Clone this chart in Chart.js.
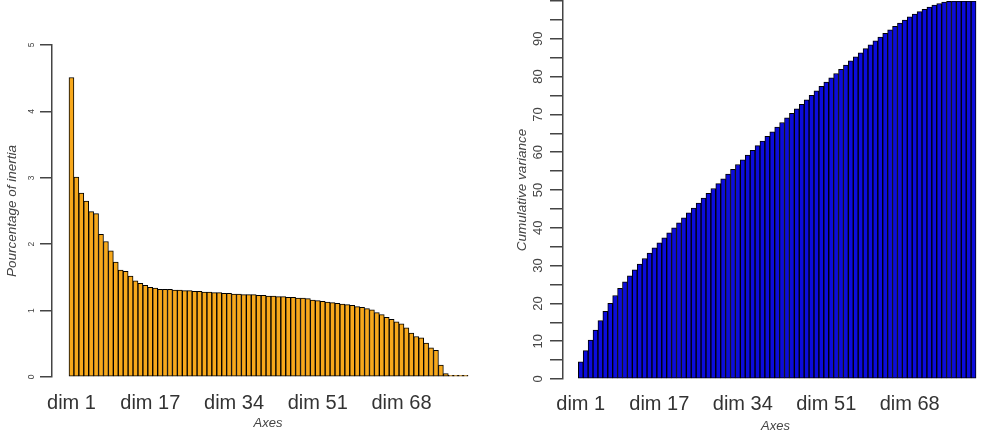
<!DOCTYPE html>
<html>
<head>
<meta charset="utf-8">
<script src="https://cdn.jsdelivr.net/npm/chart.js@4.4.1/dist/chart.umd.min.js"></script>
<style>
  html, body { margin: 0; padding: 0; background: #fff; overflow: hidden; }
  #wrap { position: relative; width: 988px; height: 430px; }
  canvas { position: absolute; top: 0; }
  #inertiaChart { left: 0; }
  #cumulChart { left: 494px; }
</style>
</head>
<body>
<div id="wrap">
  <canvas id="inertiaChart" width="494" height="430"></canvas>
  <canvas id="cumulChart" width="494" height="430"></canvas>
</div>
<script>
  // dimensions 1..81 (one bar each)
  var dims = [];
  for (var i = 1; i <= 81; i++) {
    dims.push(i);
  }

  // which dims get a label under the bars
  var labelDims = [1, 17, 34, 51, 68];

  // percentage of inertia per dim
  var inertia = [4.51, 3.01, 2.77, 2.65, 2.49, 2.46, 2.15, 2.04, 1.90, 1.73,
    1.61, 1.59, 1.52, 1.45, 1.41, 1.38, 1.35, 1.34, 1.32, 1.32,
    1.32, 1.31, 1.31, 1.30, 1.30, 1.29, 1.29, 1.28, 1.28, 1.27,
    1.27, 1.26, 1.26, 1.25, 1.25, 1.24, 1.24, 1.24, 1.23, 1.23,
    1.22, 1.22, 1.21, 1.21, 1.20, 1.20, 1.19, 1.19, 1.18, 1.16,
    1.15, 1.14, 1.13, 1.12, 1.11, 1.10, 1.09, 1.08, 1.06, 1.05,
    1.03, 1.01, 0.97, 0.94, 0.90, 0.87, 0.83, 0.80, 0.74, 0.66,
    0.61, 0.59, 0.51, 0.44, 0.40, 0.18, 0.05, 0.02, 0.01, 0.01, 0.00];

  // cumulative variance per dim (right plot)
  var cumVariance = [4.51, 7.52, 10.29, 12.94, 15.43, 17.89, 20.04, 22.08, 23.98, 25.71,
    27.32, 28.91, 30.43, 31.88, 33.29, 34.67, 36.02, 37.36, 38.68, 40.00,
    41.32, 42.63, 43.94, 45.24, 46.54, 47.83, 49.12, 50.40, 51.68, 52.95,
    54.22, 55.48, 56.74, 57.99, 59.24, 60.48, 61.72, 62.96, 64.19, 65.42,
    66.64, 67.86, 69.07, 70.28, 71.48, 72.68, 73.87, 75.06, 76.24, 77.40,
    78.55, 79.69, 80.82, 81.94, 83.05, 84.15, 85.24, 86.32, 87.38, 88.43,
    89.46, 90.47, 91.44, 92.38, 93.28, 94.15, 94.98, 95.78, 96.52, 97.18,
    97.79, 98.38, 98.89, 99.33, 99.73, 99.91, 99.96, 99.98, 99.99, 100.00, 100.00];

  Chart.defaults.font.family = "'Liberation Sans', Arial, Helvetica, sans-serif";

  // one R-style barplot per canvas
  function barChart(canvasId, values, fill, setup) {
    return new Chart(document.getElementById(canvasId), {
      type: 'bar',
      data: {
        labels: dims,
        datasets: [{
          data: values,
          backgroundColor: fill,
          borderColor: '#000',
          borderWidth: 1,
          borderSkipped: false,
          minBarLength: 1.6,
          barPercentage: 1,
          categoryPercentage: 1
        }]
      },
      options: {
        responsive: false,
        animation: false,
        layout: { padding: setup.padding },
        plugins: { legend: { display: false }, tooltip: { enabled: false } },
        scales: {
          x: {
            type: 'linear',
            offset: false,
            min: setup.xMin,
            max: setup.xMax,
            grid: { display: false, drawTicks: false },
            border: { display: false },
            afterBuildTicks: function (scale) {
              scale.ticks = labelDims.map(function (d) { return { value: d }; });
            },
            afterFit: function (scale) {
              scale.height = setup.xHeight;
              scale.paddingLeft = 0;
              scale.paddingRight = 0;
            },
            ticks: {
              autoSkip: false,
              maxRotation: 0,
              padding: setup.xLabelPad,
              color: '#333',
              font: { size: 20 },
              callback: function (v) { return 'dim ' + v; }
            },
            title: {
              display: true,
              text: 'Axes',
              color: '#444',
              font: { size: 13, style: 'italic', lineHeight: 1 },
              padding: { top: 0, bottom: setup.axesPad }
            }
          },
          y: {
            min: 0,
            max: setup.yMax,
            afterFit: function (scale) {
              scale.width = setup.yWidth;
              scale.paddingTop = 0;
              scale.paddingBottom = 0;
            },
            grid: { drawOnChartArea: false, drawTicks: true, tickLength: setup.tickLen, color: '#444', lineWidth: 1.5 },
            border: { display: true, color: '#444', width: 1.5 },
            ticks: {
              stepSize: setup.yStep,
              minRotation: 90,
              maxRotation: 90,
              crossAlign: 'center',
              padding: setup.yLabelPad,
              color: '#444',
              font: { size: setup.yFont },
              callback: setup.yLabel
            },
            title: {
              display: true,
              text: setup.yTitle,
              color: '#444',
              font: { size: 13.5, style: 'italic' },
              padding: { top: setup.yTitlePad, bottom: 0 }
            }
          }
        }
      }
    });
  }

  var inertiaChart = barChart('inertiaChart', inertia, '#F7A81B', {
    padding: { top: 45, right: 10, left: 0, bottom: 0 },
    xMin: -2.951, xMax: 84.748,
    xHeight: 53, xLabelPad: 14, axesPad: 0,
    yMax: 5, yStep: 1, yWidth: 52, tickLen: 12, yLabelPad: 6, yFont: 8.5,
    yLabel: function (v) { return v; },
    yTitle: 'Pourcentage of inertia', yTitlePad: 4.5
  });

  var cumulChart = barChart('cumulChart', cumVariance, '#0C0CDC', {
    padding: { top: 1, right: 0, left: 0, bottom: 0 },
    xMin: -2.616, xMax: 83.94,
    xHeight: 51, xLabelPad: 13, axesPad: -3,
    yMax: 100, yStep: 5, yWidth: 69, tickLen: 13, yLabelPad: 4, yFont: 13,
    yLabel: function (v) { return (v % 10 === 0 && v < 100) ? v : ''; },
    yTitle: 'Cumulative variance', yTitlePad: 20
  });
</script>
</body>
</html>
